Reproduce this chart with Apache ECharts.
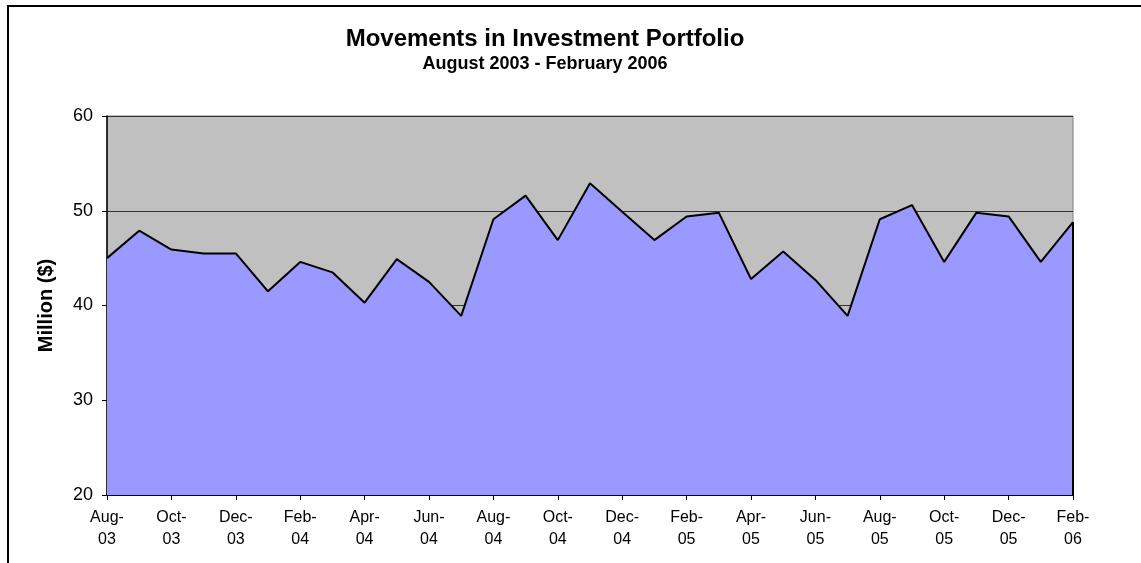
<!DOCTYPE html>
<html>
<head>
<meta charset="utf-8">
<script src="https://cdn.jsdelivr.net/npm/echarts@6/dist/echarts.min.js"></script>
<style>
  html, body { margin: 0; padding: 0; background: #fff; }
  #chart { width: 1141px; height: 563px; }
</style>
</head>
<body>
<div id="chart"></div>
<script>
// months, Aug-03 .. Feb-06
var months = [
  'Aug-03', 'Sep-03', 'Oct-03', 'Nov-03', 'Dec-03', 'Jan-04', 'Feb-04', 'Mar-04',
  'Apr-04', 'May-04', 'Jun-04', 'Jul-04', 'Aug-04', 'Sep-04', 'Oct-04', 'Nov-04',
  'Dec-04', 'Jan-05', 'Feb-05', 'Mar-05', 'Apr-05', 'May-05', 'Jun-05', 'Jul-05',
  'Aug-05', 'Sep-05', 'Oct-05', 'Nov-05', 'Dec-05', 'Jan-06', 'Feb-06'
];
// portfolio value, million $
var portfolio = [
  45.0, 47.9, 45.9, 45.5, 45.5, 41.5, 44.6, 43.5,
  40.3, 44.9, 42.5, 38.9, 49.1, 51.6, 46.9, 52.9,
  49.9, 46.9, 49.4, 49.8, 42.8, 45.7, 42.7, 38.9,
  49.1, 50.6, 44.6, 49.8, 49.4, 44.6, 48.8
];
var yTicks = [20, 30, 40, 50, 60];

var font = '"Liberation Sans", Arial, sans-serif';
var myChart = echarts.init(document.getElementById('chart'), null, { renderer: 'canvas' });

var last = months.length - 1;

var option = {
  backgroundColor: '#ffffff',
  animation: false,
  title: {
    text: 'Movements in Investment Portfolio',
    subtext: 'August 2003 - February 2006',
    left: 540,
    textAlign: 'center',
    top: 22,
    itemGap: 4,
    textStyle: { fontFamily: font, fontSize: 24, fontWeight: 'bold', color: '#000' },
    subtextStyle: { fontFamily: font, fontSize: 18, fontWeight: 'bold', color: '#000' }
  },
  graphic: [{
    type: 'rect',
    silent: true,
    shape: { x: 8, y: 6, width: 1200, height: 600 },
    style: { fill: 'none', stroke: '#000', lineWidth: 2 }
  }],
  grid: {
    left: 107,
    right: 68,
    top: 116,
    bottom: 68,
    show: true,
    backgroundColor: '#C0C0C0',
    borderColor: '#808080',
    borderWidth: 1
  },
  xAxis: {
    type: 'category',
    data: months,
    boundaryGap: false,
    axisLine: { lineStyle: { color: '#000', width: 2 } },
    axisTick: { interval: 1, length: 5, lineStyle: { color: '#000' } },
    axisLabel: {
      interval: 1,
      margin: 12,
      fontFamily: font,
      fontSize: 16,
      lineHeight: 22,
      color: '#000',
      formatter: function (v) { return v.replace('-', '-\n'); }
    }
  },
  yAxis: {
    type: 'value',
    min: yTicks[0],
    max: yTicks[yTicks.length - 1],
    interval: 10,
    name: 'Million ($)',
    nameLocation: 'middle',
    nameGap: 51,
    nameTextStyle: { fontFamily: font, fontSize: 20, fontWeight: 'bold', color: '#000' },
    axisLine: { show: true, lineStyle: { color: '#000', width: 1.5 } },
    axisTick: { show: true, length: 5, lineStyle: { color: '#000' } },
    axisLabel: { margin: 14, fontFamily: font, fontSize: 18, color: '#000' },
    splitLine: { show: true, lineStyle: { color: '#333', width: 1 } }
  },
  series: [{
    name: 'Portfolio',
    type: 'line',
    data: portfolio,
    symbol: 'none',
    lineStyle: { color: '#000', width: 2 },
    areaStyle: { color: '#9999FF', opacity: 1 },
    markLine: {
      silent: true,
      symbol: 'none',
      label: { show: false },
      lineStyle: { color: '#000', width: 2, type: 'solid' },
      data: [[
        { coord: [months[last], yTicks[0]] },
        { coord: [months[last], portfolio[last]] }
      ]]
    }
  }]
};

myChart.setOption(option);
</script>
</body>
</html>
